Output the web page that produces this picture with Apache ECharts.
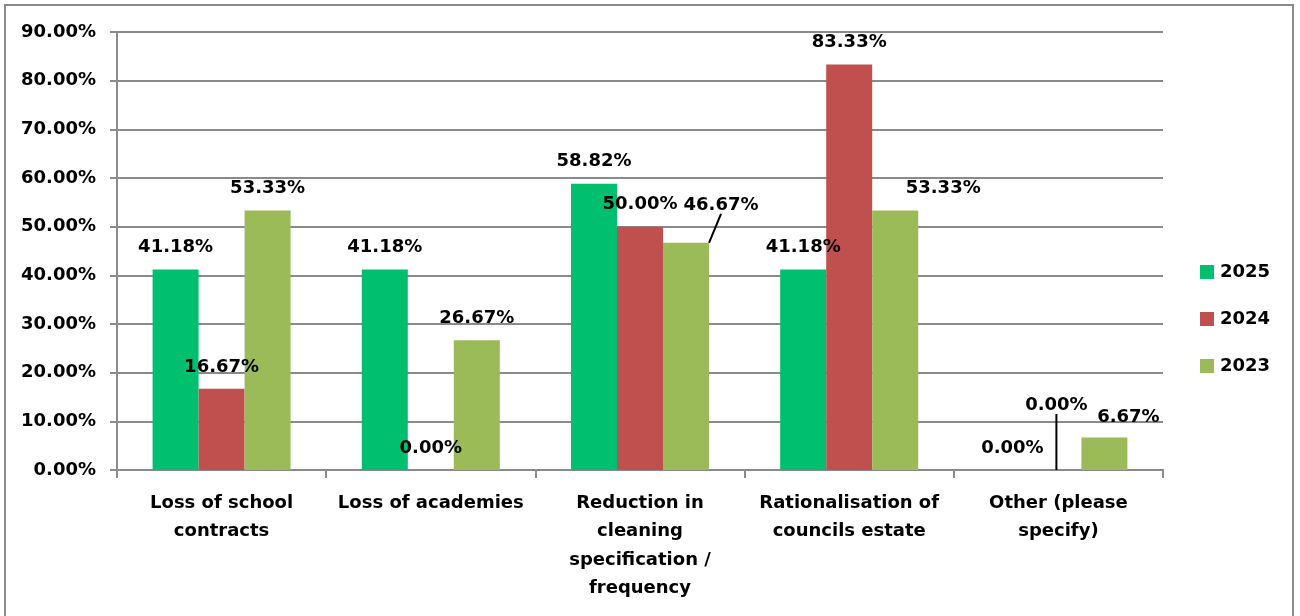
<!DOCTYPE html>
<html>
<head>
<meta charset="utf-8">
<script src="https://cdn.jsdelivr.net/npm/echarts@6/dist/echarts.min.js"></script>
<style>
  html, body { margin: 0; padding: 0; background: #fff; }
  #chart { width: 1300px; height: 616px; }
</style>
</head>
<body>
<div id="chart"></div>
<script>
const categories = [
  'Loss of school\ncontracts',
  'Loss of academies',
  'Reduction in\ncleaning\nspecification /\nfrequency',
  'Rationalisation of\ncouncils estate',
  'Other (please\nspecify)'
]
const seriesNames = ['2025', '2024', '2023']
const values2025 = [41.18, 41.18, 58.82, 41.18, 0]
const values2024 = [16.67, 0, 50.00, 83.33, 0]
const values2023 = [53.33, 26.67, 46.67, 53.33, 6.67]
const yTicks = [0, 10, 20, 30, 40, 50, 60, 70, 80, 90]

const colors = ['#00BF6F', '#C0504D', '#9BBB59']
const font = 'DejaVu Sans'

// labels that were dragged by hand in the original: [series][dataIndex] -> [dx, dy]
const labelShift = {
  1: { 4: [-2, -43] },
  2: { 2: [35, -16], 3: [48, 0], 4: [24, 2] }
}
const withLine = { 1: [4], 2: [2] }

function buildData(vals, si) {
  return vals.map((v, i) => {
    const item = { value: v }
    if (withLine[si] && withLine[si].indexOf(i) >= 0) {
      item.labelLine = { show: true, lineStyle: { color: '#000', width: 2 } }
    }
    return item
  })
}

const chart = echarts.init(document.getElementById('chart'))
chart.setOption({
  animation: false,
  color: colors,
  textStyle: { fontFamily: font },
  graphic: [{
    type: 'rect',
    shape: { x: 5, y: 5, width: 1288, height: 700 },
    style: { fill: 'none', stroke: '#8a8a8a', lineWidth: 2 },
    silent: true
  }],
  grid: { left: 117, right: 137, top: 32, bottom: 146 },
  legend: {
    orient: 'vertical',
    left: 1200,
    top: 263,
    padding: 0,
    itemWidth: 14,
    itemHeight: 14,
    itemGap: 29,
    icon: 'rect',
    data: seriesNames,
    textStyle: { fontSize: 18, fontWeight: 'bold', color: '#000', lineHeight: 14, padding: [0, 0, 0, 1] }
  },
  xAxis: {
    type: 'category',
    data: categories,
    axisLine: { lineStyle: { color: '#8a8a8a', width: 2 } },
    axisTick: { show: true, length: 8, lineStyle: { color: '#8a8a8a', width: 2 } },
    axisLabel: {
      interval: 0,
      margin: 19,
      fontSize: 18,
      fontWeight: 'bold',
      color: '#000',
      lineHeight: 28.5
    }
  },
  yAxis: {
    type: 'value',
    min: yTicks[0],
    max: yTicks[yTicks.length - 1],
    interval: 10,
    axisLine: { show: true, lineStyle: { color: '#8a8a8a', width: 2 } },
    axisTick: { show: true, length: 7, lineStyle: { color: '#8a8a8a', width: 2 } },
    splitLine: { lineStyle: { color: '#8a8a8a', width: 2 } },
    axisLabel: {
      margin: 21,
      fontSize: 18,
      fontWeight: 'bold',
      color: '#000',
      formatter: v => v.toFixed(2) + '%'
    }
  },
  series: [values2025, values2024, values2023].map((vals, si) => ({
    name: seriesNames[si],
    type: 'bar',
    barWidth: 46,
    barGap: '0%',
    data: buildData(vals, si),
    label: {
      show: true,
      position: 'top',
      distance: 13,
      fontSize: 18,
      fontWeight: 'bold',
      color: '#000',
      formatter: p => p.value.toFixed(2) + '%'
    },
    labelLayout: function (params) {
      const s = labelShift[si] && labelShift[si][params.dataIndex]
      if (!s) return {}
      return { dx: s[0], dy: s[1] }
    }
  }))
})
</script>
</body>
</html>
